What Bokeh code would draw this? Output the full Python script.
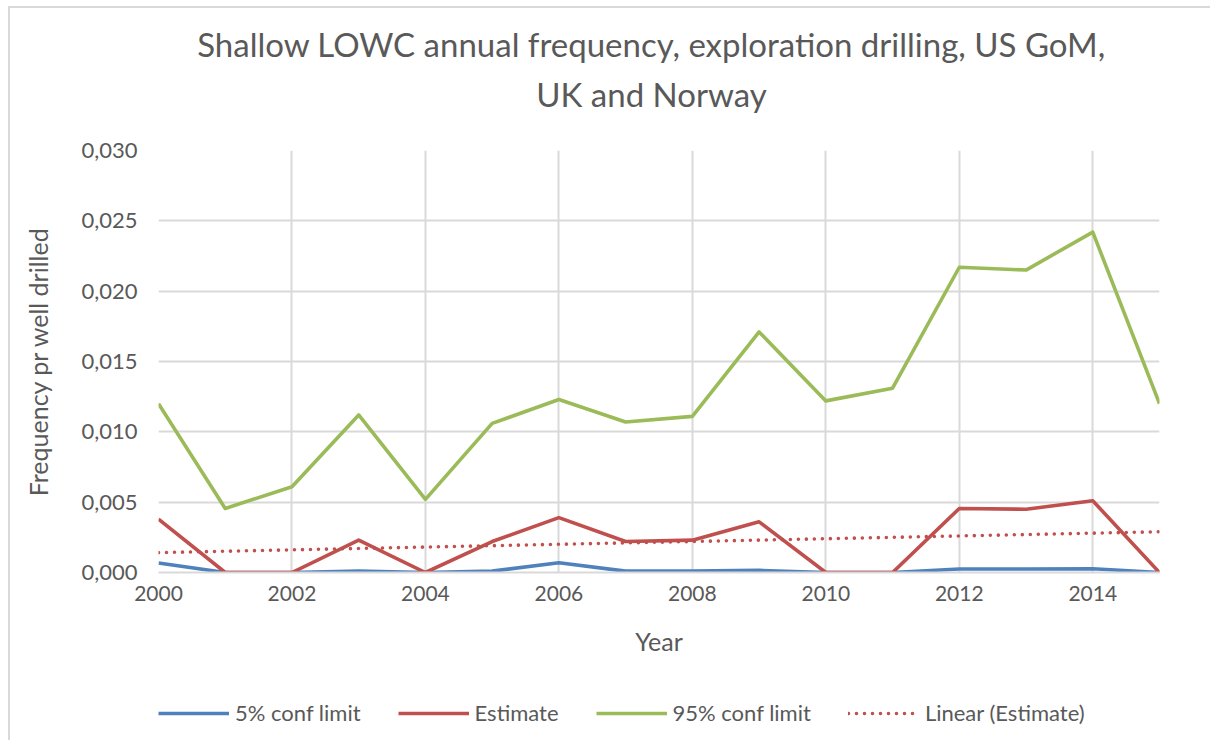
import numpy as np
from bokeh.plotting import figure
from bokeh.layouts import column, row
from bokeh.models import (Range1d, Legend, LegendItem, FixedTicker, Label, Spacer,
                          CustomJSTickFormatter, ColumnDataSource)
from bokeh.embed import file_html
from bokeh.resources import INLINE

# ---------------- data ----------------
years = [2000, 2001, 2002, 2003, 2004, 2005, 2006, 2007,
         2008, 2009, 2010, 2011, 2012, 2013, 2014, 2015]
conf5 = [0.00068, 0.0, 0.0, 0.0001, 0.0, 0.0001, 0.00069, 0.0001,
         0.0001, 0.00015, 0.0, 0.0, 0.00025, 0.00025, 0.00027, 0.0]
estimate = [0.0038, 0.0, 0.0, 0.0023, 0.0, 0.0022, 0.0039, 0.0022,
            0.0023, 0.0036, 0.0, 0.0, 0.00455, 0.0045, 0.0051, 0.0]
conf95 = [0.0120, 0.00455, 0.0061, 0.0112, 0.0052, 0.0106, 0.0123, 0.0107,
          0.0111, 0.0171, 0.0122, 0.0131, 0.0217, 0.0215, 0.0242, 0.0120]
x_ticks = [2000, 2002, 2004, 2006, 2008, 2010, 2012, 2014]
y_ticks = [0.0, 0.005, 0.010, 0.015, 0.020, 0.025, 0.030]

title_line1 = "Shallow LOWC annual frequency, exploration drilling, US GoM,"
title_line2 = "UK and Norway"
x_label = "Year"
y_label = "Frequency pr well drilled"
series_names = ["5% conf limit", "Estimate", "95% conf limit", "Linear (Estimate)"]

# linear trendline of the Estimate series (as the spreadsheet does)
slope, intercept = np.polyfit(years, estimate, 1)
trend_x = [years[0], years[-1]]
trend_y = [slope * x + intercept for x in trend_x]

# ---------------- styling ----------------
FONT = "Lato"
TXT = "#595959"
GRID = "#d9d9d9"
BLUE = "#4F81BD"
RED = "#C0504D"
GREEN = "#9BBB59"
W = 1200          # width of every stacked figure
BL, BR = 148, 51  # side borders -> plot frame spans page x 158..1159
LW = 3.6


def strip(height):
    f = figure(width=W, height=height, output_backend="svg", toolbar_location=None,
               x_range=Range1d(158, 1159), y_range=Range1d(0, height),
               min_border_left=BL, min_border_right=BR,
               min_border_top=0, min_border_bottom=0,
               x_axis_type=None, y_axis_type=None)
    f.outline_line_color = None
    f.xgrid.visible = False
    f.ygrid.visible = False
    return f


# ---------------- title strip ----------------
TH = 120
pt = strip(TH)
for txt, yy in ((title_line1, TH - 35), (title_line2, TH - 85)):
    pt.add_layout(Label(x=651, y=yy, text=txt, text_align="center",
                        text_baseline="middle", text_font=FONT,
                        text_font_size="33px", text_color=TXT))

# ---------------- main chart ----------------
MH = 540
p = figure(width=W, height=MH, output_backend="svg", toolbar_location=None,
           x_range=Range1d(2000, 2015), y_range=Range1d(0, 0.030),
           min_border_left=BL, min_border_right=BR,
           min_border_top=22, min_border_bottom=96)
p.outline_line_color = None

p.xaxis.ticker = FixedTicker(ticks=x_ticks)
p.yaxis.ticker = FixedTicker(ticks=y_ticks)
p.yaxis.formatter = CustomJSTickFormatter(code="return tick.toFixed(3).replace('.', ',');")
for ax in (p.xaxis[0], p.yaxis[0]):
    ax.major_tick_line_color = None
    ax.minor_tick_line_color = None
    ax.major_tick_out = 0
    ax.major_tick_in = 0
    ax.major_label_text_font = FONT
    ax.major_label_text_color = TXT
    ax.axis_label_text_font = FONT
    ax.axis_label_text_font_size = "25px"
    ax.axis_label_text_color = TXT
    ax.axis_label_text_font_style = "normal"
p.xaxis.major_label_text_font_size = "21px"
p.yaxis.major_label_text_font_size = "22px"
p.xaxis.axis_label = x_label
p.yaxis.axis_label = y_label
p.xaxis.axis_line_color = GRID
p.xaxis.axis_line_width = 2
p.yaxis.axis_line_color = None
p.xaxis.major_label_standoff = 13
p.xaxis.axis_label_standoff = 22
p.yaxis.major_label_standoff = 21
p.yaxis.axis_label_standoff = 25

p.xgrid.ticker = FixedTicker(ticks=x_ticks)
p.xgrid.grid_line_color = GRID
p.xgrid.grid_line_width = 2
p.ygrid.grid_line_color = GRID
p.ygrid.grid_line_width = 2

src = ColumnDataSource(dict(year=years, c5=conf5, est=estimate, c95=conf95))
p.line("year", "c5", source=src, line_color=BLUE, line_width=LW, line_join="round")
p.line("year", "est", source=src, line_color=RED, line_width=LW, line_join="round")
p.line("year", "c95", source=src, line_color=GREEN, line_width=LW, line_join="round")
p.line(trend_x, trend_y, line_color=RED, line_width=LW, line_dash="0 8",
       line_cap="round")

# ---------------- legend strip ----------------
LH = 72
pl = strip(LH)
styles = [dict(line_color=BLUE), dict(line_color=RED), dict(line_color=GREEN),
          dict(line_color=RED, line_dash="0 8", line_cap="round")]
items = []
for name, st in zip(series_names, styles):
    # off-screen stand-in renderers, used only for their legend swatches
    r = pl.line([0, 1], [-500, -500], line_width=LW, **st)
    items.append(LegendItem(label=name, renderers=[r]))
legend = Legend(items=items, orientation="horizontal", location=(0, 14),
                label_text_font=FONT, label_text_font_size="22px",
                label_text_color=TXT, glyph_width=71, glyph_height=20,
                label_standoff=6, spacing=37, border_line_color=None,
                background_fill_alpha=0, padding=0, margin=0)
pl.add_layout(legend, "center")

# chart border (light grey, top and left as in the reference)
H_ALL = TH + MH + LH
top_line = Spacer(width=W, height=2, styles={"background-color": GRID})
left_line = column(Spacer(width=2, height=6),
                   Spacer(width=2, height=H_ALL + 2, styles={"background-color": GRID}))
layout = row(Spacer(width=8, height=H_ALL + 8), left_line,
             column(Spacer(width=W, height=6), top_line, pt, p, pl))

open("out.html", "w").write(file_html(layout, INLINE))
